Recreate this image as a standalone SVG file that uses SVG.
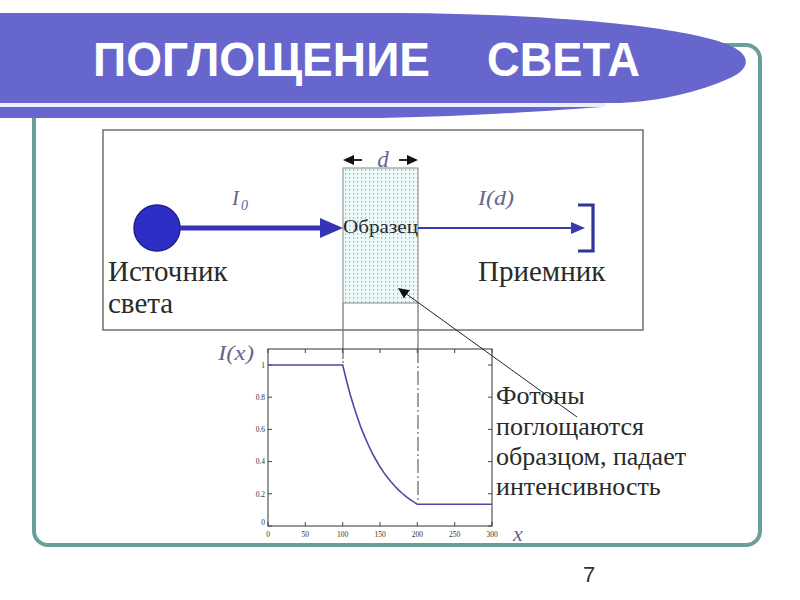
<svg xmlns="http://www.w3.org/2000/svg" width="800" height="600" viewBox="0 0 800 600">
<style>
.serif{font-family:"Liberation Serif","Times New Roman",serif;fill:#2a2a2a}
.ital{font-family:"Liberation Serif","Times New Roman",serif;font-style:italic;fill:#66668f}
.tick{font-family:"Liberation Serif","Times New Roman",serif;font-size:7.5px;fill:#333}
.gray{stroke:#7a7a7a;stroke-width:1.3;fill:none}
.tk{stroke:#444;stroke-width:1}
.purple{fill:#6666cc}
</style>
<defs>
<pattern id="dots" patternUnits="userSpaceOnUse" width="4" height="4">
<rect width="4" height="4" fill="#eef9f9"/>
<rect x="1" y="1" width="1.2" height="1.6" fill="#7fc8c4"/>
</pattern>
<marker id="hBig" markerUnits="userSpaceOnUse" markerWidth="24" markerHeight="22" refX="0" refY="11" orient="auto"><path d="M0,1 L23,11 L0,21 Z" fill="#3434b4"/></marker>
<marker id="hThin" markerUnits="userSpaceOnUse" markerWidth="15" markerHeight="13" refX="0" refY="6.5" orient="auto"><path d="M0,0.5 L14,6.5 L0,12.5 Z" fill="#3a3aaa"/></marker>
<marker id="hBlack" markerUnits="userSpaceOnUse" markerWidth="12" markerHeight="11" refX="0" refY="5.5" orient="auto"><path d="M0,0.5 L11,5.5 L0,10.5 Z" fill="#111"/></marker>
</defs>
<rect width="800" height="600" fill="#ffffff"/>

<g id="frame">
<rect x="34" y="45" width="726" height="500" rx="14" fill="none" stroke="#6a9f99" stroke-width="4"/>
</g>

<g id="banner">
<path class="purple" d="M-5,13 L400,13 C560,14 700,28 735,48 C752,58 748,70 730,78 C700,92 660,101 620,103 L-5,103 Z"/>
<rect x="-5" y="103" width="610" height="4" fill="#ececfa"/>
<path class="purple" d="M-5,107 L603,107 C560,110 480,116 380,118 L-5,118 Z"/>
<text x="93" y="76" font-family="Liberation Sans, Arial, sans-serif" font-weight="bold" font-size="49" fill="#ffffff" textLength="337" lengthAdjust="spacingAndGlyphs">ПОГЛОЩЕНИЕ</text>
<text x="487" y="76" font-family="Liberation Sans, Arial, sans-serif" font-weight="bold" font-size="49" fill="#ffffff" textLength="153" lengthAdjust="spacingAndGlyphs">СВЕТА</text>
</g>

<g id="panel">
<rect x="103" y="130" width="540" height="200" fill="#ffffff" stroke="#6f6f6f" stroke-width="1.5"/>
</g>

<g id="source">
<circle cx="157" cy="228" r="23" fill="#2d2dc8" stroke="#20208a" stroke-width="1.5"/>
<text class="serif" x="108" y="281" font-size="29">Источник</text>
<text class="serif" x="108" y="313" font-size="29">света</text>
</g>

<g id="sample">
<rect x="343" y="168" width="75" height="135" fill="url(#dots)" stroke="#888" stroke-width="1"/>
<text class="serif" x="343" y="233" font-size="19" fill="#111" textLength="75" lengthAdjust="spacingAndGlyphs">Образец</text>
<text class="ital" x="383" y="167" font-size="23" text-anchor="middle" fill="#555">d</text>
</g>

<g id="receiver">
<path d="M578,205 H593 V251 H578" fill="none" stroke="#333399" stroke-width="3.2"/>
<text class="serif" x="478" y="281" font-size="29">Приемник</text>
</g>

<g id="beam-labels">
<text class="ital" x="232" y="205" font-size="21">I</text>
<text class="ital" x="241" y="210" font-size="14">0</text>
<text class="ital" x="478" y="205" font-size="21" textLength="36" lengthAdjust="spacingAndGlyphs">I(d)</text>
</g>

<g id="plot">
<line class="gray" x1="343" y1="303" x2="343" y2="349"/>
<line class="gray" x1="418" y1="303" x2="418" y2="349"/>
<line x1="343" y1="349" x2="343" y2="365" stroke="#444" stroke-width="1" stroke-dasharray="10 2 2 2"/>
<line x1="418" y1="349" x2="418" y2="500" stroke="#444" stroke-width="1" stroke-dasharray="14 3 2 3"/>
<rect x="268" y="349" width="224" height="177" fill="none" stroke="#555" stroke-width="1.2"/>
<g class="tk">
<path d="M268,526v-4M305.3,526v-4M342.7,526v-4M380,526v-4M417.3,526v-4M454.7,526v-4M492,526v-4"/>
<path d="M268,349v4M305.3,349v4M342.7,349v4M380,349v4M417.3,349v4M454.7,349v4M492,349v4"/>
<path d="M268,526h4M268,493.8h4M268,461.6h4M268,429.4h4M268,397.2h4M268,365h4"/>
<path d="M492,526h-4M492,493.8h-4M492,461.6h-4M492,429.4h-4M492,397.2h-4M492,365h-4"/>
</g>
<polyline fill="none" stroke="#4a4aa8" stroke-width="1.6" points="268,365 342.7,365 346.4,380.3 350.1,394.2 353.9,406.7 357.6,418.1 361.3,428.4 365.1,437.6 368.8,446 372.5,453.7 376.3,460.5 380,466.8 383.7,472.4 387.5,477.5 391.2,482.1 394.9,486.3 398.7,490.1 402.4,493.5 406.1,496.6 409.9,499.4 413.6,501.9 417.3,504.2 492,504.2"/>
<g class="tick" text-anchor="middle">
<text x="268" y="537">0</text><text x="305.3" y="537">50</text><text x="342.7" y="537">100</text><text x="380" y="537">150</text><text x="417.3" y="537">200</text><text x="454.7" y="537">250</text><text x="492" y="537">300</text>
</g>
<g class="tick" text-anchor="end">
<text x="265" y="525">0</text><text x="265" y="496.5">0.2</text><text x="265" y="464.3">0.4</text><text x="265" y="432.1">0.6</text><text x="265" y="399.9">0.8</text><text x="265" y="367.7">1</text>
</g>
<text class="ital" x="218" y="360" font-size="22" fill="#555" textLength="36" lengthAdjust="spacingAndGlyphs">I(x)</text>
<text class="ital" x="513" y="541" font-size="22" fill="#555">x</text>
</g>

<g id="caption">
<text class="serif" x="496" y="404" font-size="26">Фотоны</text>
<text class="serif" x="496" y="435" font-size="26">поглощаются</text>
<text class="serif" x="496" y="465" font-size="26">образцом, падает</text>
<text class="serif" x="496" y="495" font-size="26">интенсивность</text>
</g>

<g id="connectors">
<line x1="180" y1="228" x2="320" y2="228" stroke="#3434b4" stroke-width="5" marker-end="url(#hBig)"/>
<line x1="418" y1="228" x2="571" y2="228" stroke="#3a3aaa" stroke-width="2" marker-end="url(#hThin)"/>
<line x1="362" y1="160" x2="354" y2="160" stroke="#111" stroke-width="1.8" marker-end="url(#hBlack)"/>
<line x1="399" y1="160" x2="407" y2="160" stroke="#111" stroke-width="1.8" marker-end="url(#hBlack)"/>
<line x1="577" y1="417" x2="406.9" y2="294.4" stroke="#222" stroke-width="1" marker-end="url(#hBlack)"/>
</g>

<g id="page-number">
<text x="583" y="582" font-family="Liberation Sans, Arial, sans-serif" font-size="22" fill="#333">7</text>
</g>
</svg>
